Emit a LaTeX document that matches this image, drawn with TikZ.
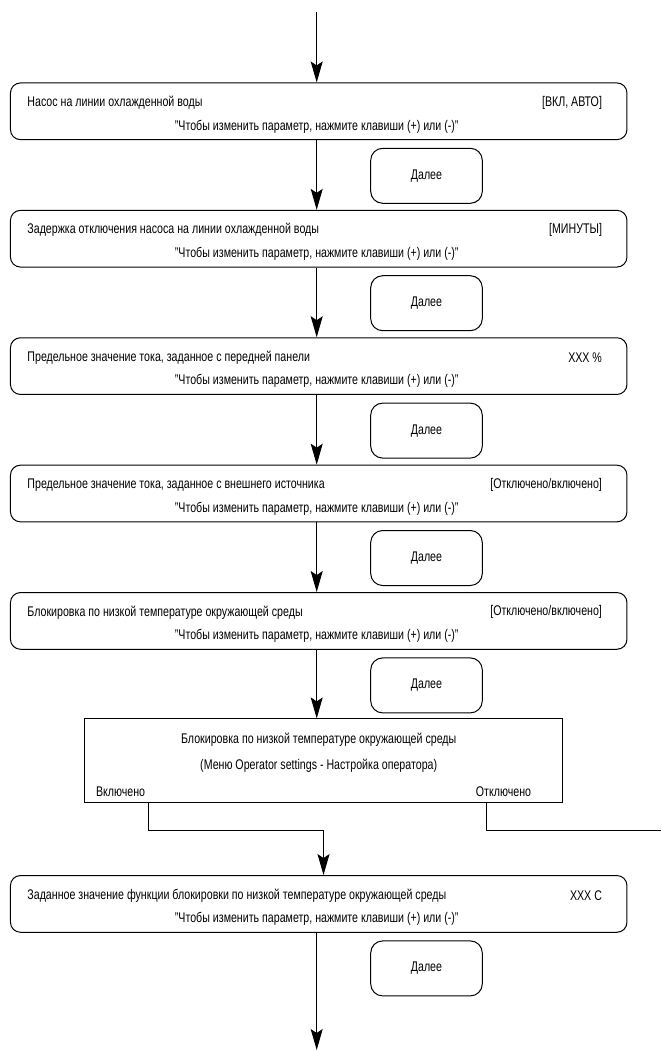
\documentclass[tikz,border=0pt]{standalone}
\usepackage{xcolor}
\usepackage{fontspec}
\setmainfont{Liberation Sans}[FakeStretch=0.76]
\usepackage{tikz}
\usetikzlibrary{arrows.meta}

\begin{document}
\begin{tikzpicture}[x=1pt,y=-1pt,line width=1pt,node distance=127.4pt,
	main node/.style={draw, rounded corners=10pt, minimum width=616.5pt, minimum height=56.7pt, inner sep=0pt},
	next node/.style={draw, rounded corners=12pt, minimum width=111.6pt, minimum height=55pt, inner sep=0pt, font=\fontsize{14}{16}\selectfont},
	menu node/.style={draw, minimum width=477.7pt, minimum height=84pt, inner sep=0pt},
	txt/.style={inner sep=0pt, font=\fontsize{14}{16}\selectfont},
	arr/.style={-{Stealth[length=21pt,width=12pt,inset=4pt]}}]
			\useasboundingbox (0,0) rectangle (661,1051);
			% Nodes
			\node[main node] (1) at (318.7,111.3) {};
			\node[main node] (2) [below of=1] {};
			\node[main node] (3) [below of=2] {};
			\node[main node] (4) [below of=3] {};
			\node[main node] (5) [below of=4] {};
			\node[menu node] (6) [below of=5, xshift=4.5pt, yshift=-12.6pt] {};
			\node[main node] (7) [below of=6, xshift=-4.5pt, yshift=-15.6pt] {};
			
			\node[next node] (d1) at ([xshift=107.8pt,yshift=-64.5pt]1.center) {Далее};
			\node[next node] (d2) at ([xshift=107.8pt,yshift=-64.5pt]2.center) {Далее};
			\node[next node] (d3) at ([xshift=107.8pt,yshift=-64.5pt]3.center) {Далее};
			\node[next node] (d4) at ([xshift=107.8pt,yshift=-64.5pt]4.center) {Далее};
			\node[next node] (d5) at ([xshift=107.8pt,yshift=-64.5pt]5.center) {Далее};
			\node[next node] (d7) at ([xshift=107.8pt,yshift=-64.5pt]7.center) {Далее};
			
			% Texts
			\node[txt, anchor=west] (1a) at ([xshift=17pt,yshift=-20.3pt]1.north west) {Насос на линии охлажденной воды};
			\node[txt, anchor=east] (1b) at ([xshift=-25pt,yshift=-20.3pt]1.north east) {[ВКЛ, АВТО]};
			\node[txt] (1c) at ([xshift=-2pt,yshift=-44pt]1.north) {"Чтобы изменить параметр, нажмите клавиши (+) или (-)"};
			
			\node[txt, anchor=west] (2a) at ([xshift=17pt,yshift=-20.3pt]2.north west) {Задержка отключения насоса на линии охлажденной воды};
			\node[txt, anchor=east] (2b) at ([xshift=-25pt,yshift=-20.3pt]2.north east) {[МИНУТЫ]};
			\node[txt] (2c) at ([xshift=-2pt,yshift=-44pt]2.north) {"Чтобы изменить параметр, нажмите клавиши (+) или (-)"};
			
			\node[txt, anchor=west] (3a) at ([xshift=17pt,yshift=-20.3pt]3.north west) {Предельное значение тока, заданное с передней панели};
			\node[txt, anchor=east] (3b) at ([xshift=-25pt,yshift=-20.3pt]3.north east) {XXX \%};
			\node[txt] (3c) at ([xshift=-2pt,yshift=-44pt]3.north) {"Чтобы изменить параметр, нажмите клавиши (+) или (-)"};
			
			\node[txt, anchor=west] (4a) at ([xshift=17pt,yshift=-20.3pt]4.north west) {Предельное значение тока, заданное с внешнего источника};
			\node[txt, anchor=east] (4b) at ([xshift=-25pt,yshift=-20.3pt]4.north east) {[Отключено/включено]};
			\node[txt] (4c) at ([xshift=-2pt,yshift=-44pt]4.north) {"Чтобы изменить параметр, нажмите клавиши (+) или (-)"};
			
			\node[txt, anchor=west] (5a) at ([xshift=17pt,yshift=-20.3pt]5.north west) {Блокировка по низкой температуре окружающей среды};
			\node[txt, anchor=east] (5b) at ([xshift=-25pt,yshift=-20.3pt]5.north east) {[Отключено/включено]};
			\node[txt] (5c) at ([xshift=-2pt,yshift=-44pt]5.north) {"Чтобы изменить параметр, нажмите клавиши (+) или (-)"};
			
			\node[txt] (6a) at ([xshift=-4.5pt,yshift=-21pt]6.north) {Блокировка по низкой температуре окружающей среды};
			\node[txt] (6b) at ([xshift=-4.5pt,yshift=-47pt]6.north) {(Меню Operator settings - Настройка оператора)};
			\node[txt, anchor=west] (6c) at ([xshift=11.7pt,yshift=11.3pt]6.south west) {Включено};
			\node[txt, anchor=east] (6d) at ([xshift=-31pt,yshift=11.3pt]6.south east) {Отключено};
			
			\node[txt, anchor=west] (7a) at ([xshift=17pt,yshift=-20.3pt]7.north west) {Заданное значение функции блокировки по низкой температуре окружающей среды};
			\node[txt, anchor=east] (7b) at ([xshift=-25pt,yshift=-20.3pt]7.north east) {XXX C};
			\node[txt] (7c) at ([xshift=-2pt,yshift=-44pt]7.north) {"Чтобы изменить параметр, нажмите клавиши (+) или (-)"};
			
			\coordinate (start) at (316.7,11.7);
			\coordinate (end) at (316.7,1050);
			\coordinate (on1) at (148.8,830.7);
			\coordinate (on2) at (323.5,830.7);
			\coordinate (off1) at (486,830.7);
			\coordinate (off2) at (661,830.7);
			
			% Connectors
			\draw[arr] (start) -- (1.north -| start);
			\draw[arr] (1.south -| start) -- (2.north -| start);
			\draw[arr] (2.south -| start) -- (3.north -| start);
			\draw[arr] (3.south -| start) -- (4.north -| start);
			\draw[arr] (4.south -| start) -- (5.north -| start);
			\draw[arr] (5.south -| start) -- (6.north -| start);
			\draw[arr] (6.south -| on1) -- (on1) -- (on2) -- (7.north -| on2);
			\draw (6.south -| off1) -- (off1) -- (off2);
			\draw[arr] (7.south -| start) -- (end);
			
		\end{tikzpicture}
\end{document}
